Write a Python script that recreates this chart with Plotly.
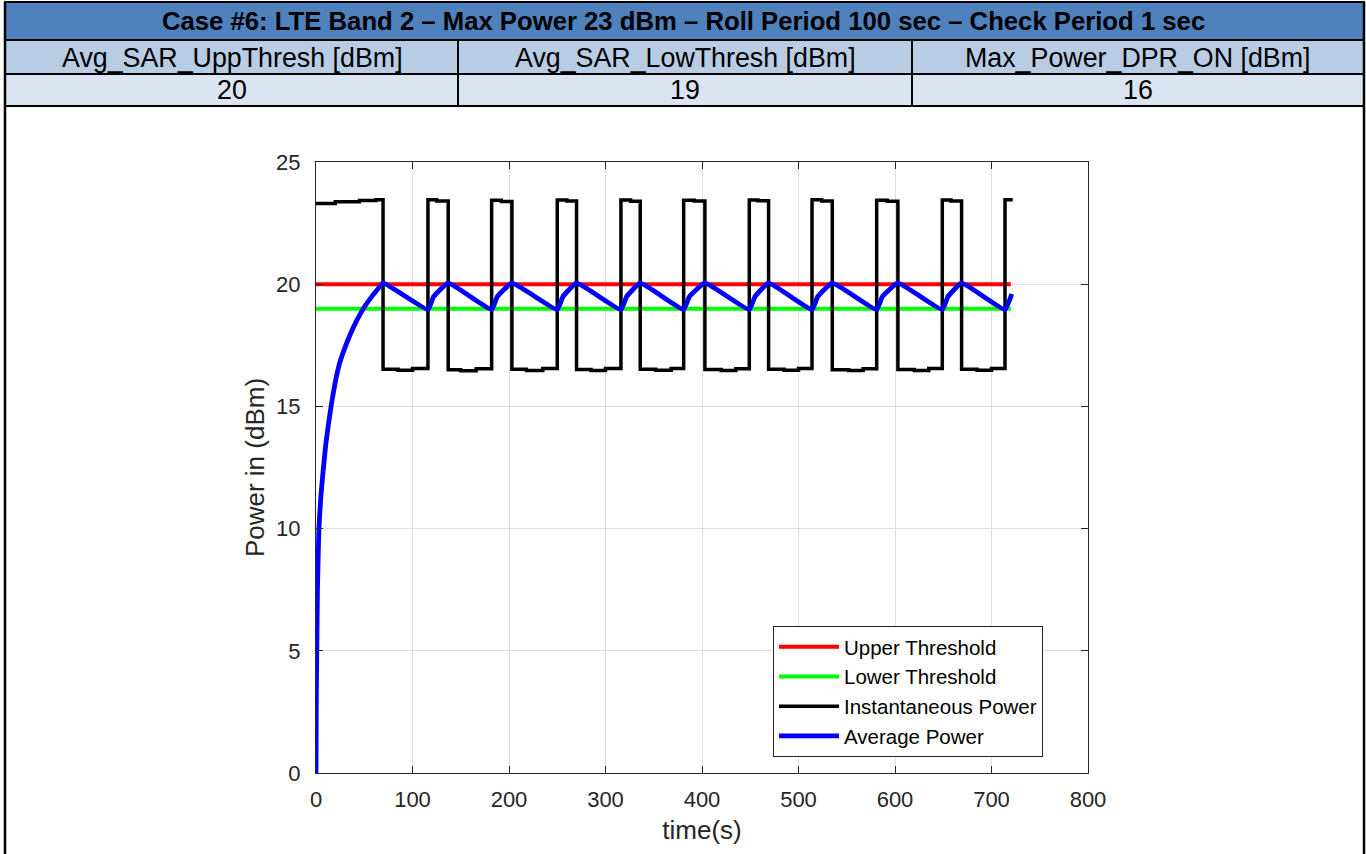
import plotly.graph_objects as go

# ---------------- data ----------------
title_text = "Case #6: LTE Band 2 \u2013 Max Power 23 dBm \u2013 Roll Period 100 sec \u2013 Check Period 1 sec"
header_labels = ["Avg_SAR_UppThresh [dBm]", "Avg_SAR_LowThresh [dBm]", "Max_Power_DPR_ON [dBm]"]
header_values = ["20", "19", "16"]

thr_time = [0, 720]
upper_thr = [20, 20]
lower_thr = [19, 19]

# instantaneous power (step trace)
inst_time = [0, 20, 45, 62, 69.5, 85, 100, 116, 125, 137, 150, 166, 182, 192, 203, 218, 235,
             250, 260, 270, 285, 300, 316, 326, 336, 352, 368, 381, 392, 403, 420, 435,
             449, 458, 469, 485, 500, 514, 524, 535, 552, 567, 581, 592, 603, 620, 635,
             649, 658, 669, 685, 700, 714, 722]
inst_power = [23.30, 23.37, 23.42, 23.46, 16.52, 16.48, 16.55, 23.46, 23.40, 16.50, 16.46, 16.54,
              23.44, 23.38, 16.52, 16.47, 16.55, 23.45, 23.40, 16.51, 16.47, 16.55, 23.45, 23.39,
              16.52, 16.48, 16.55, 23.44, 23.40, 16.51, 16.47, 16.54, 23.45, 23.41, 16.52, 16.48,
              16.55, 23.46, 23.40, 16.50, 16.47, 16.54, 23.44, 23.39, 16.51, 16.47, 16.55, 23.45,
              23.40, 16.52, 16.48, 16.55, 23.46, 23.46]

# average power
avg_time = [0, 0.3, 0.8, 1.5, 3, 5, 7.5, 10, 13, 16, 20, 24, 29, 35, 42, 49, 56, 63, 69.5,
            116, 122, 137, 182, 188, 203, 250, 256, 270, 316, 322, 336, 381, 387, 403,
            449, 455, 469, 514, 520, 535, 581, 587, 603, 649, 655, 669, 714, 721]
avg_power = [0, 3.0, 5.0, 7.5, 10.0, 11.3, 12.4, 13.4, 14.3, 15.1, 16.0, 16.7, 17.3, 17.9, 18.5,
             19.0, 19.4, 19.75, 20.05,
             18.95, 19.5, 20.05, 18.95, 19.5, 20.05, 18.95, 19.5, 20.05, 18.95, 19.5, 20.05,
             18.95, 19.5, 20.05, 18.95, 19.5, 20.05, 18.95, 19.5, 20.05, 18.95, 19.5, 20.05,
             18.95, 19.5, 20.05, 18.95, 19.6]

x_ticks = [0, 100, 200, 300, 400, 500, 600, 700, 800]
y_ticks = [0, 5, 10, 15, 20, 25]

# ---------------- layout helpers ----------------
W, H = 1366, 854
def px(x):
    return x / W
def py(y):
    return 1 - y / H

AX = "#262626"
GRID = "#DFDFDF"
FONT = "Liberation Sans, Arial"

fig = go.Figure()
fig.add_trace(go.Scatter(x=thr_time, y=upper_thr, mode="lines", name="Upper Threshold",
                         line=dict(color="#FF0000", width=4)))
fig.add_trace(go.Scatter(x=thr_time, y=lower_thr, mode="lines", name="Lower Threshold",
                         line=dict(color="#00FF00", width=4)))
fig.add_trace(go.Scatter(x=inst_time, y=inst_power, mode="lines", name="Instantaneous Power",
                         line=dict(color="#000000", width=3.5, shape="hv")))
fig.add_trace(go.Scatter(x=avg_time, y=avg_power, mode="lines", name="Average Power",
                         line=dict(color="#0000FF", width=4.8, shape="spline", smoothing=0.3)))

shapes = []
# table rows
shapes.append(dict(type="rect", xref="paper", yref="paper", x0=px(5), x1=px(1364), y0=py(3), y1=py(40),
                   fillcolor="#4F81BD", line=dict(width=0), layer="below"))
shapes.append(dict(type="rect", xref="paper", yref="paper", x0=px(5), x1=px(1364), y0=py(40), y1=py(74),
                   fillcolor="#B8CCE4", line=dict(width=0), layer="below"))
shapes.append(dict(type="rect", xref="paper", yref="paper", x0=px(5), x1=px(1364), y0=py(74), y1=py(106),
                   fillcolor="#DBE5F1", line=dict(width=0), layer="below"))
# borders
for yy in [2, 40, 74, 106]:
    shapes.append(dict(type="line", xref="paper", yref="paper", x0=px(4), x1=px(1365), y0=py(yy), y1=py(yy),
                       line=dict(color="black", width=2)))
for xx in [458, 912]:
    shapes.append(dict(type="line", xref="paper", yref="paper", x0=px(xx), x1=px(xx), y0=py(40), y1=py(106),
                       line=dict(color="black", width=2)))
for xx in [5, 1364]:
    shapes.append(dict(type="line", xref="paper", yref="paper", x0=px(xx), x1=px(xx), y0=py(2), y1=py(854),
                       line=dict(color="black", width=2.5)))

annotations = []
annotations.append(dict(text="<b>" + title_text + "</b>", xref="paper", yref="paper", x=px(683), y=py(21.5),
                        showarrow=False, font=dict(family=FONT, size=25.7, color="black"),
                        xanchor="center", yanchor="middle"))
col_centers = [232, 685, 1138]
for c, lab, val in zip(col_centers, header_labels, header_values):
    annotations.append(dict(text=lab, xref="paper", yref="paper", x=px(c), y=py(57.5), showarrow=False,
                            font=dict(family=FONT, size=26.8, color="black"),
                            xanchor="center", yanchor="middle"))
    annotations.append(dict(text=val, xref="paper", yref="paper", x=px(c), y=py(90.5), showarrow=False,
                            font=dict(family=FONT, size=26.8, color="black"),
                            xanchor="center", yanchor="middle"))

fig.update_layout(
    width=W, height=H,
    margin=dict(l=0, r=0, t=0, b=0, autoexpand=False),
    paper_bgcolor="white", plot_bgcolor="white",
    font=dict(family=FONT, color=AX),
    shapes=shapes, annotations=annotations,
    showlegend=True,
    legend=dict(x=px(773), y=py(626), xanchor="left", yanchor="top",
                bgcolor="white", bordercolor=AX, borderwidth=1,
                font=dict(size=20.5, color="#000000", family=FONT),
                tracegroupgap=0, itemwidth=60),
    xaxis=dict(domain=[px(316), px(1088)], range=[0, 800], tickvals=x_ticks,
               showgrid=True, gridcolor=GRID, gridwidth=1, zeroline=False,
               showline=True, linecolor=AX, linewidth=1, mirror="ticks",
               ticks="inside", ticklen=7, tickcolor=AX, tickwidth=1,
               tickfont=dict(size=22, color=AX), ticklabelstandoff=7,
               title=dict(text="time(s)", font=dict(size=26, color=AX), standoff=9)),
    yaxis=dict(domain=[py(773), py(162)], range=[0, 25], tickvals=y_ticks,
               showgrid=True, gridcolor=GRID, gridwidth=1, zeroline=False,
               showline=True, linecolor=AX, linewidth=1, mirror="ticks",
               ticks="inside", ticklen=7, tickcolor=AX, tickwidth=1,
               tickfont=dict(size=22, color=AX), ticklabelstandoff=10,
               title=dict(text="Power in (dBm)", font=dict(size=26, color=AX), standoff=4)),
)

fig.write_html("out.html", config={"displayModeBar": False},
               post_script="document.body.style.margin='0';document.body.style.overflow='hidden';")
